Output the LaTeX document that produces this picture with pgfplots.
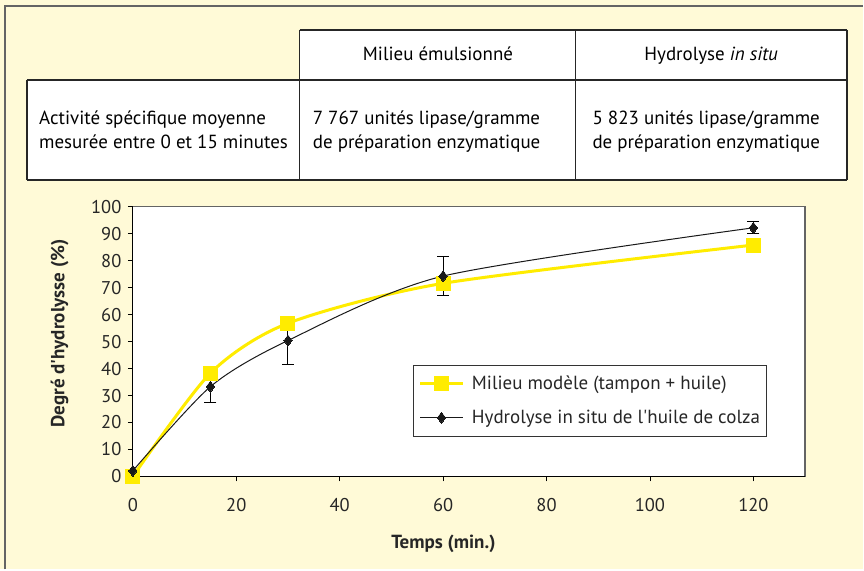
\documentclass[border=0pt]{standalone}
\usepackage{fontspec}
\setmainfont{PT Sans}
\usepackage{pgfplots}
\pgfplotsset{compat=1.18}
\definecolor{cream}{RGB}{255,250,215}
\definecolor{ylw}{RGB}{255,236,0}
\definecolor{framegray}{RGB}{100,100,100}
\newcommand{\txt}{\fontsize{19}{23}\selectfont}
\newcommand{\tck}{\fontsize{18.5}{21}\selectfont}
\begin{document}
\begin{tikzpicture}[x=1pt,y=1pt]
\fill[cream] (0,0) rectangle (864,570);
\draw[framegray, line width=2] (5,0) -- (5,564) -- (864,564);
% table
\fill[white] (300,540) rectangle (848,390);
\fill[white] (27,491) rectangle (300,390);
\draw[black!85, line width=1.2] (300,540) -- (848,540);
\draw[black!85, line width=1.2] (27,490) -- (848,490);
\draw[black!85, line width=2] (27,390) -- (848,390);
\draw[black!85, line width=1.2] (300,540) -- (300,390);
\draw[black!85, line width=1.2] (576,540) -- (576,390);
\draw[black!85, line width=1.2] (848,540) -- (848,390);
\draw[black!85, line width=2] (27,490) -- (27,390);
\node[anchor=base, inner sep=0] at (438.5,509) {\txt Milieu émulsionné};
\node[anchor=base, inner sep=0] at (712,509) {\txt Hydrolyse \textit{in situ}};
\node[anchor=base west, inner sep=0] at (39,445.7) {\txt Activité spécifique moyenne};
\node[anchor=base west, inner sep=0] at (39,421.7) {\txt mesurée entre 0 et 15 minutes};
\node[anchor=base west, inner sep=0] at (313,445.7) {\txt 7 767 unités lipase/gramme};
\node[anchor=base west, inner sep=0] at (313,421.7) {\txt de préparation enzymatique};
\node[anchor=base west, inner sep=0] at (593,445.7) {\txt 5 823 unités lipase/gramme};
\node[anchor=base west, inner sep=0] at (593,421.7) {\txt de préparation enzymatique};
\begin{axis}[
  at={(133pt,93pt)}, anchor=south west,
  scale only axis, width=673pt, height=270pt,
  xmin=0, xmax=130, ymin=0, ymax=100,
  xtick={0,20,...,120}, ytick={0,10,...,100},
  axis lines=left, axis line style={-, black, line width=1},
  axis background/.style={fill=white, draw=framegray, line width=1.2},
  tick align=outside, major tick length=5pt,
  tick style={black, line width=0.8},
  /pgf/number format/assume math mode=true,
  tick label style={font=\tck, text=black!85},
  xticklabel style={yshift=-13pt},
  yticklabel style={xshift=-3pt},
  xlabel={\bfseries Temps (min.)},
  ylabel={\bfseries Degré d\textquotesingle hydrolysse (\%)},
  label style={font=\txt, text=black!85},
  xlabel style={at={(axis description cs:0.462,-0.2667)}, anchor=base},
  ylabel style={at={(axis description cs:-0.109,0.53)}, anchor=center},
  clip=false,
  legend style={at={(0.4175,0.4148)}, anchor=north west, draw=black!80, line width=1, fill=white,
    font=\txt, text=black!85, inner xsep=5pt, inner ysep=9pt, row sep=15pt, column sep=6pt},
  legend cell align=left,
  legend image code/.code={\draw[mark repeat=2,mark phase=2,#1] plot coordinates {(0pt,0pt) (21pt,0pt) (42pt,0pt)};},
]
\addplot[draw=none, forget plot, mark=none,
  error bars/.cd, y dir=both, y explicit,
  error bar style={draw=black, line width=1},
  error mark options={draw=black, line width=1, mark size=6pt, rotate=90}]
  coordinates {(15,33.3) +- (0,5.9) (30,50.4) +- (0,8.8) (60,74.3) +- (0,7.3) (120,92.2) +- (0,2.3)};
\addplot[ylw, line width=3, smooth, tension=0.45, mark=square*, mark size=7pt, mark options={ylw, line width=0}]
  coordinates {(0,0) (15,38.3) (30,56.8) (60,71.6) (120,85.8)};
\addlegendentry{Milieu modèle (tampon + huile)}
\addplot[black!90, line width=1, smooth, tension=0.45, mark=diamond*, mark size=5.5pt, mark options={black!90, line width=0}]
  coordinates {(0,2.1) (15,33.3) (30,50.4) (60,74.3) (120,92.2)};
\addlegendentry{Hydrolyse in situ de l\textquotesingle huile de colza\hspace{20pt}}
\end{axis}
\end{tikzpicture}
\end{document}
